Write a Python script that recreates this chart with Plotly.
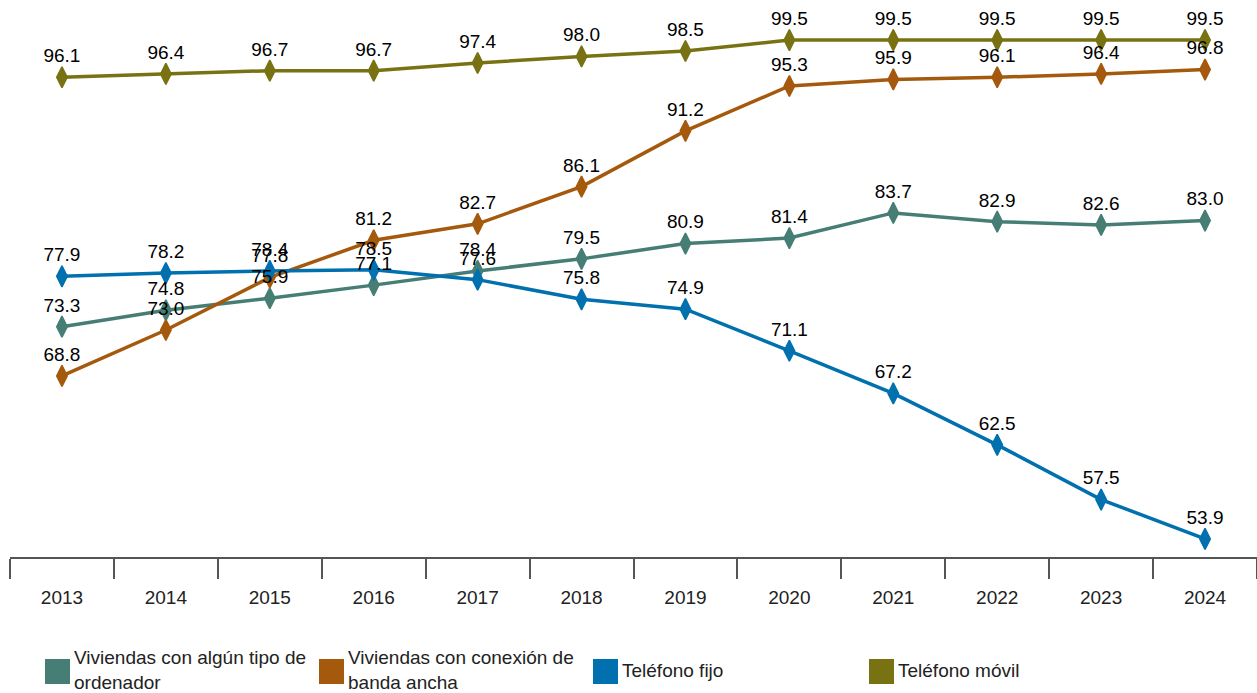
import plotly.graph_objects as go

years = ["2013", "2014", "2015", "2016", "2017", "2018", "2019", "2020", "2021", "2022", "2023", "2024"]
ordenador = [73.3, 74.8, 75.9, 77.1, 78.4, 79.5, 80.9, 81.4, 83.7, 82.9, 82.6, 83.0]
banda_ancha = [68.8, 73.0, 77.8, 81.2, 82.7, 86.1, 91.2, 95.3, 95.9, 96.1, 96.4, 96.8]
fijo = [77.9, 78.2, 78.4, 78.5, 77.6, 75.8, 74.9, 71.1, 67.2, 62.5, 57.5, 53.9]
movil = [96.1, 96.4, 96.7, 96.7, 97.4, 98.0, 98.5, 99.5, 99.5, 99.5, 99.5, 99.5]

series_names = ["Viviendas con algún tipo de<br>ordenador",
                "Viviendas con conexión de<br>banda ancha",
                "Teléfono fijo",
                "Teléfono móvil"]
series_values = [ordenador, banda_ancha, fijo, movil]
colors = ["#467E75", "#A5590C", "#0070AF", "#787213"]

FONT = "Liberation Sans, Arial, sans-serif"
FS = 19

fig = go.Figure()
# Lines and markers
for name, vals, col in zip(series_names, series_values, colors):
    fig.add_trace(go.Scatter(
        x=years, y=vals, name=name.replace("<br>", " "),
        mode="lines+markers",
        line=dict(color=col, width=3.5),
        marker=dict(symbol="diamond-tall", size=15, color=col,
                    line=dict(color=col, width=1.5)),
        cliponaxis=False,
        showlegend=False,
    ))
# Data labels drawn on top of all lines
for name, vals, col in zip(series_names, series_values, colors):
    fig.add_trace(go.Scatter(
        x=years, y=vals, name=name.replace("<br>", " "),
        mode="markers+text",
        marker=dict(symbol="diamond-tall", size=15, color="rgba(0,0,0,0)",
                    line=dict(width=1.5, color="rgba(0,0,0,0)")),
        text=[f"{v:.1f}" for v in vals],
        textposition="top center",
        textfont=dict(family=FONT, size=FS, color="#000000"),
        cliponaxis=False,
        showlegend=False,
        hoverinfo="skip",
    ))

# Manual legend (squares + wrapped text)
W, H = 1257, 693
L, B = 10, 136
PH = H - B
PW = W - L
legend_x = [45, 319, 593, 869]
for name, col, lx in zip(series_names, colors, legend_x):
    fig.add_shape(type="rect", xref="paper", yref="paper",
                  x0=(lx - L) / PW, x1=(lx + 25 - L) / PW,
                  y0=-(684 - PH) / PH, y1=-(659 - PH) / PH,
                  fillcolor=col, line=dict(width=0))
    fig.add_annotation(xref="paper", yref="paper",
                       x=(lx + 27 - L) / PW,
                       y=-(670 - PH) / PH,
                       text=name, showarrow=False,
                       xanchor="left", yanchor="middle", align="left",
                       font=dict(family=FONT, size=FS, color="#222222"))

fig.update_layout(
    width=W, height=H,
    margin=dict(l=L, r=0, t=0, b=B),
    paper_bgcolor="white", plot_bgcolor="white",
    font=dict(family=FONT, size=FS, color="#222222"),
    xaxis=dict(
        type="category", tickson="boundaries",
        showline=True, linecolor="#555555", linewidth=2,
        ticks="outside", ticklen=20, tickwidth=2, tickcolor="#555555",
        showgrid=False, zeroline=False,
        tickfont=dict(family=FONT, size=FS, color="#222222"),
        ticklabelstandoff=22,
        range=[-0.5, 11.5],
    ),
    yaxis=dict(visible=False, range=[52.25, 103.16], showgrid=False, zeroline=False),
)

fig.write_html("out.html", config={"displayModeBar": False},
               post_script="document.body.style.margin='0';document.body.style.padding='0';")
